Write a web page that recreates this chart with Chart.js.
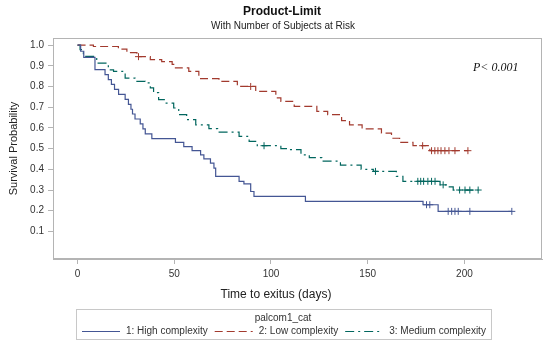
<!DOCTYPE html>
<html>
<head>
<meta charset="utf-8">
<script src="https://cdn.jsdelivr.net/npm/chart.js@4.4.1/dist/chart.umd.min.js"></script>
<style>
  html, body { margin: 0; padding: 0; background: #fff; }
</style>
</head>
<body>
<canvas id="kmChart" width="550" height="345"></canvas>
<script>
// Kaplan-Meier steps: time (days) and survival after each drop
var highTimes = [0, 1.6, 3.2, 9.0, 14.2, 15.9, 17.5, 19.1, 21.2, 24.6, 26.3, 27.6, 28.4, 29.7, 32.4, 33.8, 35.0, 38.4, 50.6, 54.9, 59.2, 63.6, 65.3, 68.7, 70.5, 71.4, 83.5, 86.0, 89.5, 91.2, 117.8, 178.6, 186.4];
var highSurv  = [1, 0.97, 0.94, 0.881, 0.857, 0.833, 0.81, 0.786, 0.762, 0.738, 0.714, 0.69, 0.667, 0.643, 0.619, 0.595, 0.571, 0.548, 0.53, 0.51, 0.49, 0.47, 0.45, 0.43, 0.406, 0.366, 0.342, 0.33, 0.293, 0.269, 0.245, 0.229, 0.197];
var highCens  = [180.4, 182.1, 191.6, 193.4, 195.1, 196.8, 202.8, 224.5];

var lowTimes = [0, 8.2, 21.1, 25.5, 30.7, 37.6, 43.5, 48.9, 50.6, 57.5, 62.7, 73.1, 82.6, 92.1, 102.5, 105.1, 112.0, 123.7, 129.3, 136.5, 140.6, 147.1, 157.1, 162.3, 166.5, 173.4, 182.1];
var lowSurv  = [1, 0.993, 0.98, 0.963, 0.944, 0.93, 0.92, 0.907, 0.89, 0.873, 0.838, 0.825, 0.80, 0.776, 0.745, 0.728, 0.704, 0.68, 0.664, 0.635, 0.615, 0.595, 0.575, 0.55, 0.53, 0.514, 0.49];
var lowCens  = [31.5, 89.5, 178.4, 183.0, 184.7, 186.3, 187.9, 189.9, 192.0, 195.1, 201.8];

var medTimes = [0, 1.3, 3.0, 3.8, 9.9, 15.9, 18.6, 24.6, 29.7, 35.0, 37.6, 39.3, 41.9, 45.3, 49.7, 52.3, 56.4, 61.1, 67.9, 72.4, 83.5, 88.7, 92.9, 105.1, 109.4, 115.5, 119.8, 126.3, 135.9, 146.6, 152.9, 164.8, 168.2, 187.4, 191.6, 194.2];
var medSurv  = [1, 0.978, 0.958, 0.945, 0.913, 0.88, 0.873, 0.84, 0.825, 0.817, 0.793, 0.77, 0.736, 0.72, 0.696, 0.664, 0.64, 0.615, 0.596, 0.58, 0.559, 0.535, 0.514, 0.50, 0.495, 0.47, 0.456, 0.44, 0.42, 0.40, 0.39, 0.366, 0.342, 0.325, 0.315, 0.30];
var medCens  = [96.4, 154.0, 175.9, 177.4, 178.9, 181.1, 183.0, 184.8, 189.0, 197.5, 200.3, 202.8, 207.1];

var groupLabels = ["1: High complexity", "2: Low complexity", "3: Medium complexity"];
var xTicks = [0, 50, 100, 150, 200];
var yTicks = [0.1, 0.2, 0.3, 0.4, 0.5, 0.6, 0.7, 0.8, 0.9, 1.0];
var titleText = "Product-Limit";
var subtitleText = "With Number of Subjects at Risk";
var xTitleText = "Time to exitus (days)";
var yTitleText = "Survival Probability";
var pText = "P< 0.001";
var legendTitle = "palcom1_cat";

var colors = ["#445694", "#A23A2E", "#01665E"];
var dashes = [[], [8, 4], [9, 4, 2, 4]];
var FONT = '"Liberation Sans", Arial, sans-serif';

function survAt(times, surv, t) {
    var s = surv[0];
    for (var i = 0; i < times.length; i++) {
        if (times[i] <= t) s = surv[i];
    }
    return s;
}

function stepData(times, surv, cens) {
    var pts = times.map(function (t, i) { return { x: t, y: surv[i] }; });
    var end = Math.max.apply(null, cens);
    pts.push({ x: end, y: survAt(times, surv, end) });
    return pts;
}

function censData(times, surv, cens) {
    return cens.map(function (t) { return { x: t, y: survAt(times, surv, t) }; });
}

var groups = [
    [highTimes, highSurv, highCens],
    [lowTimes, lowSurv, lowCens],
    [medTimes, medSurv, medCens]
];

var datasets = [];
groups.forEach(function (g, i) {
    datasets.push({
        type: 'line',
        label: groupLabels[i],
        legendItem: true,
        data: stepData(g[0], g[1], g[2]),
        stepped: true,
        borderColor: colors[i],
        borderWidth: 1.2,
        borderDash: dashes[i],
        pointRadius: 0,
        fill: false
    });
    datasets.push({
        type: 'scatter',
        label: groupLabels[i] + ' censored',
        data: censData(g[0], g[1], g[2]),
        pointStyle: 'cross',
        pointRadius: 3.5,
        borderColor: colors[i],
        borderWidth: 1,
        showLine: false
    });
});

var framePlugin = {
    id: 'frame',
    beforeDatasetsDraw: function (chart) {
        var a = chart.chartArea, ctx = chart.ctx;
        ctx.save();
        ctx.strokeStyle = '#b4b4b4';
        ctx.lineWidth = 1;
        ctx.strokeRect(Math.round(a.left) + 0.5, Math.round(a.top) + 0.5,
            Math.round(a.right - a.left) - 1, Math.round(a.bottom - a.top) - 1);
        ctx.restore();
    }
};

var extrasPlugin = {
    id: 'extras',
    afterDraw: function (chart) {
        var ctx = chart.ctx, a = chart.chartArea;
        ctx.save();
        ctx.textBaseline = 'middle';

        // titles
        ctx.textAlign = 'center';
        ctx.fillStyle = '#111';
        ctx.font = 'bold 12px ' + FONT;
        ctx.fillText(titleText, 282, 12);
        ctx.fillStyle = '#222';
        ctx.font = '10px ' + FONT;
        ctx.fillText(subtitleText, 283, 26);

        // x axis title
        ctx.font = '12px ' + FONT;
        ctx.fillText(xTitleText, 276, a.bottom + 36);

        // p-value note
        ctx.fillStyle = '#111';
        ctx.font = 'italic 12px "Liberation Serif", "Times New Roman", serif';
        ctx.textAlign = 'left';
        ctx.fillText(pText, a.right - 69, a.top + 30);

        // legend box
        var items = chart.data.datasets.filter(function (d) { return d.legendItem; });
        ctx.font = '10px ' + FONT;
        var sample = 38, gapIn = 6, gapOut = 7, padL = 6, padR = 5;
        var total = 0;
        items.forEach(function (d, i) {
            total += sample + gapIn + ctx.measureText(d.label).width + (i ? gapOut : 0);
        });
        var boxW = total + padL + padR;
        var cx = 283;
        var x0 = Math.round(cx - boxW / 2), y0 = 309, h = 30;
        ctx.strokeStyle = '#c8c8c8';
        ctx.lineWidth = 1;
        ctx.strokeRect(x0 + 0.5, y0 + 0.5, Math.round(boxW), h);
        ctx.fillStyle = '#333';
        ctx.textAlign = 'center';
        ctx.fillText(legendTitle, cx, y0 + 9);
        ctx.textAlign = 'left';
        var x = x0 + padL, yi = y0 + 22;
        items.forEach(function (d, i) {
            if (i) x += gapOut;
            ctx.strokeStyle = d.borderColor;
            ctx.lineWidth = d.borderWidth;
            ctx.setLineDash(d.borderDash);
            ctx.beginPath();
            ctx.moveTo(x, yi + 0.5);
            ctx.lineTo(x + sample, yi + 0.5);
            ctx.stroke();
            ctx.setLineDash([]);
            x += sample + gapIn;
            ctx.fillText(d.label, x, yi);
            x += ctx.measureText(d.label).width;
        });
        ctx.restore();
    }
};

new Chart("kmChart", {
    data: { datasets: datasets },
    options: {
        responsive: false,
        animation: false,
        devicePixelRatio: 1,
        layout: { padding: { left: 0, right: 8, top: 38, bottom: 38 } },
        plugins: {
            legend: { display: false },
            tooltip: { enabled: false },
            title: { display: false }
        },
        scales: {
            x: {
                type: 'linear',
                min: -12.7,
                max: 240.1,
                afterBuildTicks: function (axis) { axis.ticks = xTicks.map(function (v) { return { value: v }; }); },
                afterFit: function (axis) { axis.height = 48; },
                grid: { drawOnChartArea: false, tickLength: 5, color: '#b4b4b4' },
                border: { display: true, color: '#b4b4b4' },
                ticks: { color: '#333', padding: 4, font: { family: FONT, size: 10 }, maxRotation: 0 }
            },
            y: {
                type: 'linear',
                min: -0.033,
                max: 1.034,
                afterBuildTicks: function (axis) { axis.ticks = yTicks.map(function (v) { return { value: v }; }); },
                afterFit: function (axis) { axis.width = 53; },
                grid: { drawOnChartArea: false, tickLength: 5, color: '#b4b4b4' },
                border: { display: true, color: '#b4b4b4' },
                ticks: {
                    color: '#333', padding: 4, font: { family: FONT, size: 10 },
                    callback: function (v) { return Number(v).toFixed(1); }
                },
                title: {
                    display: true,
                    text: yTitleText,
                    color: '#222',
                    font: { family: FONT, size: 11 },
                    padding: { top: 7, bottom: 0 }
                }
            }
        }
    },
    plugins: [framePlugin, extrasPlugin]
});
</script>
</body>
</html>
